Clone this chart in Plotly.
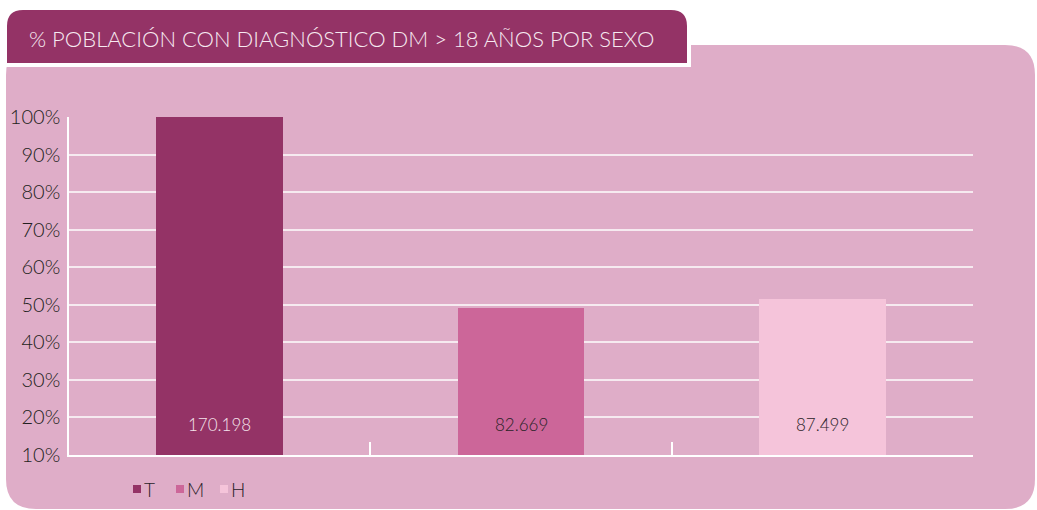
import plotly.graph_objects as go

categories = ["T", "M", "H"]
counts = ["170.198", "82.669", "87.499"]
percent = [100, 49.2, 51.5]
colors = ["#943366", "#cc6699", "#f5c4da"]
label_colors = ["#f4e4ec", "#2a2228", "#2a2228"]
y_ticks = [10, 20, 30, 40, 50, 60, 70, 80, 90, 100]
title = "% POBLACIÓN CON DIAGNÓSTICO DM > 18 AÑOS POR SEXO"

FONT = "Lato"
L, R, T, B = 69, 973, 117, 455
W, H = R - L, B - T


def xp(px):
    return (px - L) / W


def yp(py):
    return (B - py) / H


def rounded_path(x0, y0, x1, y1, r_top, r_bot):
    pts = [f"M{xp(x0 + r_top)},{yp(y0)}",
           f"L{xp(x1 - r_top)},{yp(y0)}",
           f"Q{xp(x1)},{yp(y0)} {xp(x1)},{yp(y0 + r_top)}",
           f"L{xp(x1)},{yp(y1 - r_bot)}"]
    if r_bot:
        pts.append(f"Q{xp(x1)},{yp(y1)} {xp(x1 - r_bot)},{yp(y1)}")
    pts.append(f"L{xp(x0 + r_bot)},{yp(y1)}")
    if r_bot:
        pts.append(f"Q{xp(x0)},{yp(y1)} {xp(x0)},{yp(y1 - r_bot)}")
    pts.append(f"L{xp(x0)},{yp(y0 + r_top)}")
    pts.append(f"Q{xp(x0)},{yp(y0)} {xp(x0 + r_top)},{yp(y0)}")
    pts.append("Z")
    return " ".join(pts)


fig = go.Figure()
for cat, pct, col in zip(categories, percent, colors):
    fig.add_trace(go.Bar(
        x=[cat], y=[pct], name=cat, marker=dict(color=col, line=dict(width=0)),
        width=0.42, hoverinfo="skip", showlegend=False,
    ))

for cat, txt, tc in zip(categories, counts, label_colors):
    fig.add_annotation(x=cat, y=18, xref="x", yref="y", text=txt, showarrow=False,
                       font=dict(family=FONT, size=17, color=tc, weight=300))

shapes = [
    dict(type="path", xref="paper", yref="paper", layer="below",
         path=rounded_path(6, 45, 1035, 509, 30, 30),
         fillcolor="#dfadc8", line=dict(width=0)),
    dict(type="path", xref="paper", yref="paper", layer="below",
         path=rounded_path(5, 8, 689, 65, 18, 0),
         fillcolor="#943366", line=dict(color="white", width=4)),
]

legend_x = [133, 176, 220]
for lx, cat, col in zip(legend_x, categories, colors):
    shapes.append(dict(type="rect", xref="paper", yref="paper", layer="above",
                       x0=xp(lx), x1=xp(lx + 8), y0=yp(485), y1=yp(493),
                       fillcolor=col, line=dict(width=0)))
    fig.add_annotation(x=xp(lx + 9), y=yp(489), xref="paper", yref="paper",
                       xanchor="left", yanchor="middle", text=cat, showarrow=False,
                       font=dict(family=FONT, size=19, color="#2a2228", weight=300))

fig.add_annotation(x=xp(27), y=yp(38), xref="paper", yref="paper", xanchor="left",
                   yanchor="middle", text=title, showarrow=False,
                   font=dict(family=FONT, size=22, color="#f7eaf1", weight=300))

fig.update_layout(
    template="none",
    width=1037, height=510,
    margin=dict(l=L, r=1037 - R, t=T, b=510 - B, pad=0, autoexpand=False),
    paper_bgcolor="white", plot_bgcolor="rgba(0,0,0,0)",
    barmode="overlay", bargap=0,
    shapes=shapes,
    showlegend=False,
    font=dict(family=FONT),
)
fig.update_xaxes(type="category", categoryorder="array", categoryarray=categories,
                 range=[-0.5, 2.5], showticklabels=False, tickson="boundaries",
                 ticks="inside", ticklen=13, tickwidth=1.5, tickcolor="white",
                 showgrid=False, showline=True, linecolor="white", linewidth=1.5,
                 zeroline=False, fixedrange=True, automargin=False)
fig.update_yaxes(range=[10, 100], tickvals=y_ticks, ticktext=[f"{v}%" for v in y_ticks],
                 showgrid=True, gridcolor="#f6eaf0", gridwidth=1.5,
                 showline=True, linecolor="white", linewidth=1.5, zeroline=False,
                 ticks="", tickfont=dict(family=FONT, size=20, color="#231f20", weight=300),
                 ticklabelstandoff=3, fixedrange=True, automargin=False)

fig.write_html("out.html", config={"displayModeBar": False},
               post_script="document.body.style.margin='0';document.body.style.overflow='hidden';")
